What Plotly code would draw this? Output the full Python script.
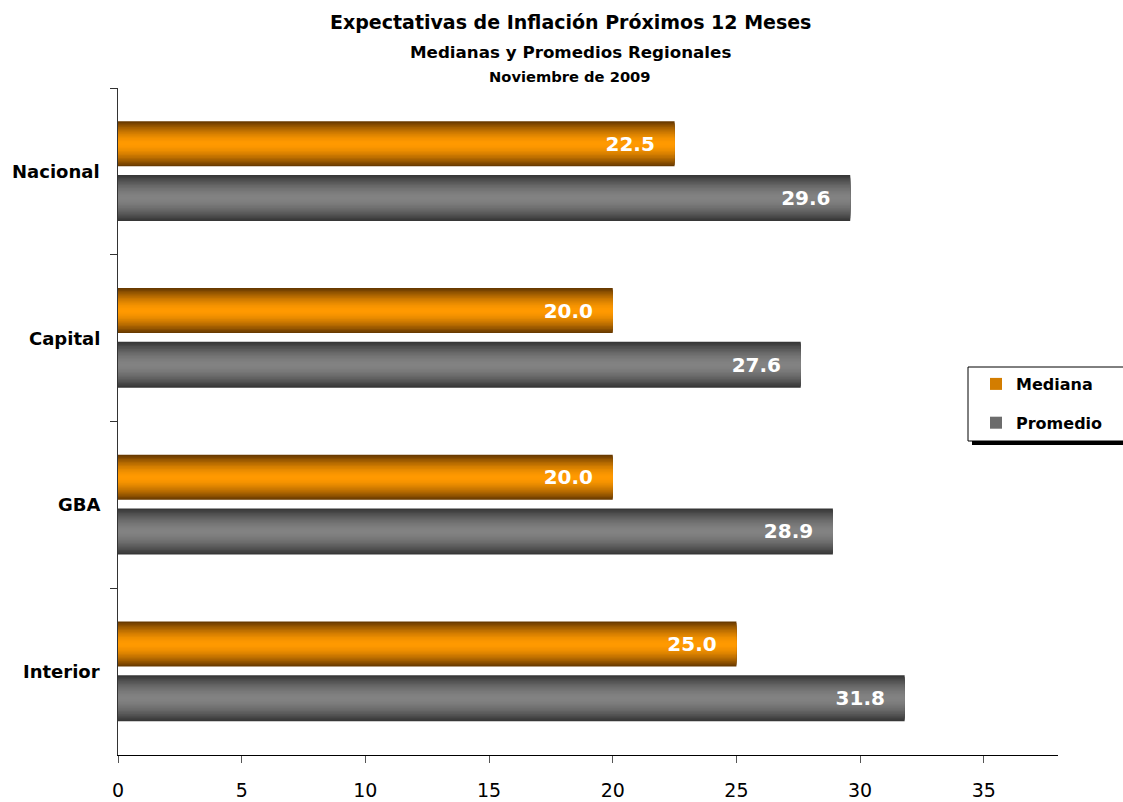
import plotly.graph_objects as go

regiones = ["Nacional", "Capital", "GBA", "Interior"]
mediana = [22.5, 20.0, 20.0, 25.0]
promedio = [29.6, 27.6, 28.9, 31.8]
x_ticks = [0, 5, 10, 15, 20, 25, 30, 35]

titulo = "Expectativas de Inflación Próximos 12 Meses"
subtitulo = "Medianas y Promedios Regionales"
fecha = "Noviembre de 2009"

FONT = "DejaVu Sans"

def lerp(c1, c2, t):
    return "rgb(%d,%d,%d)" % tuple(round(a + (b - a) * t) for a, b in zip(c1, c2))

series = [
    ("Mediana", mediana, -0.30, 0.27, (105, 58, 0), (255, 153, 0)),
    ("Promedio", promedio, 0.022, 0.275, (55, 55, 55), (130, 130, 130)),
]

fig = go.Figure()
N = 16
for name, vals, off, wid, edge, mid in series:
    center = off + wid / 2
    for i in range(N):
        f = 1 - i / N
        w = wid * f
        t = i / (N - 1)
        t = 1 - (1 - t) ** 1.6
        fig.add_trace(go.Bar(
            y=regiones, x=vals, orientation="h",
            width=w, offset=center - w / 2,
            marker=dict(color=lerp(edge, mid, t), line=dict(width=0)),
            name=name, legendgroup=name,
            showlegend=(i == N // 2),
            hoverinfo="skip",
        ))
    fig.add_trace(go.Bar(
        y=regiones, x=vals, orientation="h",
        width=wid, offset=off,
        marker=dict(color="rgba(0,0,0,0)", line=dict(width=0)),
        text=vals, texttemplate="<b>%{x:.1f}</b>\u00a0\u00a0\u2009",
        textposition="inside", insidetextanchor="end",
        textfont=dict(color="white", size=20, family=FONT),
        showlegend=False, legendgroup=name, hoverinfo="skip",
        cliponaxis=False,
    ))

L, R, T, B = 118, 65, 88, 47
W, H = 1123, 802
pw, ph = W - L - R, H - T - B

def px_x(x):
    return (x - L) / pw

def px_y(y):
    return (H - B - y) / ph

annotations = []
for reg in regiones:
    annotations.append(dict(
        text="<b>%s</b>" % reg, x=px_x(102), xref="paper", y=reg, yref="y",
        xanchor="right", yanchor="middle", showarrow=False,
        font=dict(size=18, family=FONT, color="black"),
    ))
for txt, ypx, size in [(titulo, 22, 19), (subtitulo, 52, 16.7), (fecha, 77, 14.7)]:
    annotations.append(dict(
        text="<b>%s</b>" % txt, x=px_x(570), xref="paper", y=px_y(ypx), yref="paper",
        xanchor="center", yanchor="middle", showarrow=False,
        font=dict(size=size, family=FONT, color="black"),
    ))

fig.update_layout(
    width=W, height=H,
    margin=dict(l=L, r=R, t=T, b=B, pad=0, autoexpand=False),
    barmode="overlay",
    plot_bgcolor="white", paper_bgcolor="white",
    font=dict(family=FONT, color="black"),
    xaxis=dict(
        range=[0, 38], tickvals=x_ticks, ticktext=[str(v) for v in x_ticks],
        showgrid=False, zeroline=False, automargin=False,
        showline=True, linecolor="black", linewidth=1,
        ticks="outside", ticklen=7, tickcolor="#555", tickwidth=1,
        tickfont=dict(size=19, family=FONT), ticklabelstandoff=11,
    ),
    yaxis=dict(
        type="category", categoryorder="array", categoryarray=regiones,
        range=[3.5, -0.5], showgrid=False, zeroline=False, automargin=False,
        showline=True, linecolor="#333", linewidth=1,
        ticks="outside", ticklen=7, tickcolor="#333", tickson="boundaries",
        showticklabels=False,
    ),
    legend=dict(
        x=px_x(976), y=px_y(367), xanchor="left", yanchor="top",
        bgcolor="rgba(0,0,0,0)", borderwidth=0,
        font=dict(size=16, family=FONT, weight="bold"),
        itemwidth=30, tracegroupgap=15,
    ),
    shapes=[
        dict(type="rect", xref="paper", yref="paper",
             x0=px_x(972), x1=px_x(1140), y0=px_y(445), y1=px_y(371),
             fillcolor="black", line=dict(width=0), layer="above"),
        dict(type="rect", xref="paper", yref="paper",
             x0=px_x(968), x1=px_x(1140), y0=px_y(441), y1=px_y(367),
             fillcolor="white", line=dict(width=1, color="black"), layer="above"),
    ],
    annotations=annotations,
)

fig.write_html(
    "out.html",
    config={"displayModeBar": False},
    post_script="document.body.style.margin='0';document.body.style.overflow='hidden';",
)
